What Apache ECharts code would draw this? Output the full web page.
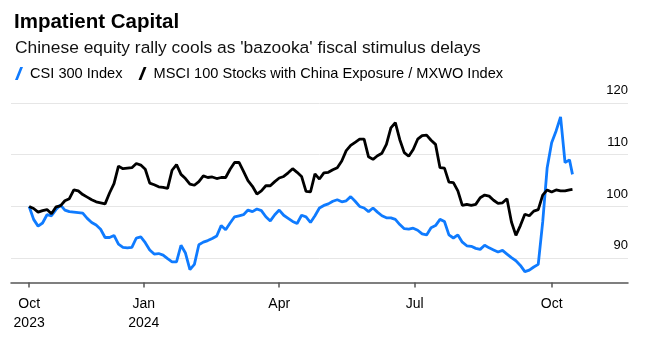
<!DOCTYPE html>
<html>
<head>
<meta charset="utf-8">
<script src="https://cdn.jsdelivr.net/npm/echarts@6/dist/echarts.min.js"></script>
<style>
  html, body { margin: 0; padding: 0; background: #fff; }
  #chart { width: 645px; height: 344px; }
</style>
</head>
<body>
<div id="chart"></div>
<script>
// Series names as shown in the legend
const seriesNames = ['CSI 300 Index', 'MSCI 100 Stocks with China Exposure / MXWO Index'];

// Index levels rebased to 100 on 16 Oct 2023, one reading every third calendar day,
// followed by the last close on 15 Oct 2024
const csi300 = [
  100, 97.5, 96.2, 96.8, 98.4, 98.2, 99.4, 100.3, 99.3, 99.0,
  98.9, 98.8, 98.7, 97.7, 96.9, 96.4, 95.6, 94.0, 94.0, 94.4,
  92.7, 92.1, 92.0, 92.1, 93.9, 94.1, 93.0, 91.6, 90.8, 90.9,
  90.6, 89.9, 89.3, 89.3, 92.5, 91.0, 87.8, 88.8, 92.6, 93.1,
  93.4, 93.8, 94.3, 96.3, 95.5, 96.8, 98.0, 98.2, 98.4, 99.3,
  99.0, 99.5, 99.2, 98.0, 97.2, 98.4, 99.3, 98.3, 97.7, 97.1,
  96.7, 98.3, 98.0, 96.9, 98.2, 99.7, 100.2, 100.5, 101.0, 101.3,
  100.9, 101.1, 101.9, 101.0, 100.0, 99.7, 99.0, 99.7, 98.9, 98.2,
  97.8, 97.8, 97.5, 96.5, 95.7, 95.6, 95.8, 95.4, 94.7, 94.5,
  95.9, 96.3, 97.5, 97.1, 94.5, 93.9, 94.5, 93.1, 92.4, 92.3,
  91.9, 91.7, 92.5, 92.0, 91.6, 91.2, 91.5, 90.8, 90.1, 89.5,
  88.6, 87.4, 87.7, 88.3, 88.8, 97.0, 107.5, 112.3, 114.6, 117.3,
  108.5, 109.0, 106.2
];
const msciChina = [
  100, 99.6, 98.9, 99.2, 99.4, 98.6, 99.9, 100.1, 101.1, 101.5,
  103.2, 103.0, 102.3, 101.8, 101.3, 100.9, 100.7, 100.5, 102.6, 104.4,
  107.8, 107.3, 107.4, 107.5, 108.3, 108.0, 107.2, 104.5, 104.2, 103.8,
  103.7, 103.5, 107.0, 108.1, 106.2, 105.4, 104.3, 104.1, 104.8, 105.9,
  105.6, 105.7, 105.4, 105.6, 105.6, 107.2, 108.5, 108.5, 106.8, 105.0,
  103.9, 102.4, 103.0, 104.0, 104.0, 104.8, 105.5, 105.8, 106.5, 107.3,
  106.6, 105.8, 102.9, 102.8, 106.3, 105.3, 106.5, 106.6, 107.1, 107.5,
  108.8, 110.8, 111.8, 112.4, 113.0, 113.0, 109.6, 109.1, 109.8, 110.3,
  112.0, 115.2, 116.2, 112.9, 110.4, 109.7, 111.0, 113.0, 113.7, 113.8,
  112.8, 112.0, 107.5, 107.4, 104.7, 104.6, 103.0, 100.2, 100.4, 100.2,
  100.4, 101.7, 102.2, 102.0, 101.2, 100.6, 100.7, 101.5, 97.0, 94.4,
  96.3, 98.5, 98.2, 99.1, 99.4, 102.2, 103.2, 102.8, 103.2, 103.0,
  103.0, 103.2, 103.3
];

// Sampling calendar
const firstDate = '2023-10-16';
const stepDays = 3;
const lastDate = '2024-10-15';

// Axis ticks
const tickDates = ['2023-10-16', '2024-01-01', '2024-04-01', '2024-07-01', '2024-10-01'];
const tickLabels = ['Oct\n2023', 'Jan\n2024', 'Apr', 'Jul', 'Oct'];
const yTicks = [90, 100, 110, 120];

const DAY = 86400000;
function toTime(s) {
  const [y, m, d] = s.split('-').map(Number);
  return Date.UTC(y, m - 1, d);
}
const t0 = toTime(firstDate);
const times = [];
for (let i = 0; i < csi300.length - 1; i++) times.push(t0 + i * stepDays * DAY);
times.push(toTime(lastDate));

const tickTimes = tickDates.map(toTime);
const font = '"Liberation Sans", Arial, Helvetica, sans-serif';
const blue = '#0f7bff';

const chart = echarts.init(document.getElementById('chart'), null, { renderer: 'canvas' });
chart.setOption({
  animation: false,
  backgroundColor: '#fff',
  textStyle: { fontFamily: font },
  title: [
    {
      text: 'Impatient Capital',
      left: 9, top: 7,
      textStyle: { fontFamily: font, fontSize: 20.5, fontWeight: 'bold', color: '#000' }
    },
    {
      text: "Chinese equity rally cools as 'bazooka' fiscal stimulus delays",
      left: 10, top: 35,
      textStyle: { fontFamily: font, fontSize: 17.4, fontWeight: 'normal', color: '#111' }
    }
  ],
  legend: {
    left: 10, top: 61,
    itemGap: 16,
    itemWidth: 8, itemHeight: 13,
    icon: 'path://M0,13 L5.2,0 L8,0 L2.8,13 Z',
    textStyle: { fontFamily: font, fontSize: 14.6, color: '#000', padding: [0, 0, 0, 2] },
    data: seriesNames
  },
  grid: { left: 11, right: 17, top: 103, bottom: 61.5, containLabel: false },
  xAxis: {
    type: 'value',
    min: t0 - 12.2 * DAY,
    max: t0 + 402.3 * DAY,
    axisLine: { show: true, onZero: false, lineStyle: { color: '#555', width: 1.5 } },
    axisTick: { show: true, length: 5, lineStyle: { color: '#555', width: 1.5 }, customValues: tickTimes },
    axisLabel: {
      customValues: tickTimes,
      formatter: v => {
        const i = tickTimes.indexOf(v);
        return i >= 0 ? tickLabels[i] : '';
      },
      fontFamily: font, fontSize: 14, lineHeight: 19, color: '#000', margin: 12
    },
    splitLine: { show: false }
  },
  yAxis: {
    type: 'value',
    position: 'right',
    min: 85.3, max: 120,
    axisLine: { show: false },
    axisTick: { show: false, customValues: yTicks },
    axisLabel: {
      customValues: yTicks,
      inside: true,
      margin: 0,
      verticalAlign: 'bottom',
      align: 'right',
      padding: [0, 0, 6, 0],
      lineHeight: 13,
      fontFamily: font, fontSize: 13, color: '#000'
    },
    splitLine: { show: true, lineStyle: { color: '#e6e6e6', width: 1 } }
  },
  series: [
    {
      name: seriesNames[0],
      type: 'line',
      data: times.map((t, i) => [t, csi300[i]]),
      showSymbol: false, symbol: 'none',
      color: blue,
      lineStyle: { color: blue, width: 2.8 }
    },
    {
      name: seriesNames[1],
      type: 'line',
      data: times.map((t, i) => [t, msciChina[i]]),
      showSymbol: false, symbol: 'none',
      color: '#000',
      lineStyle: { color: '#000', width: 2.8 }
    }
  ]
});
</script>
</body>
</html>
